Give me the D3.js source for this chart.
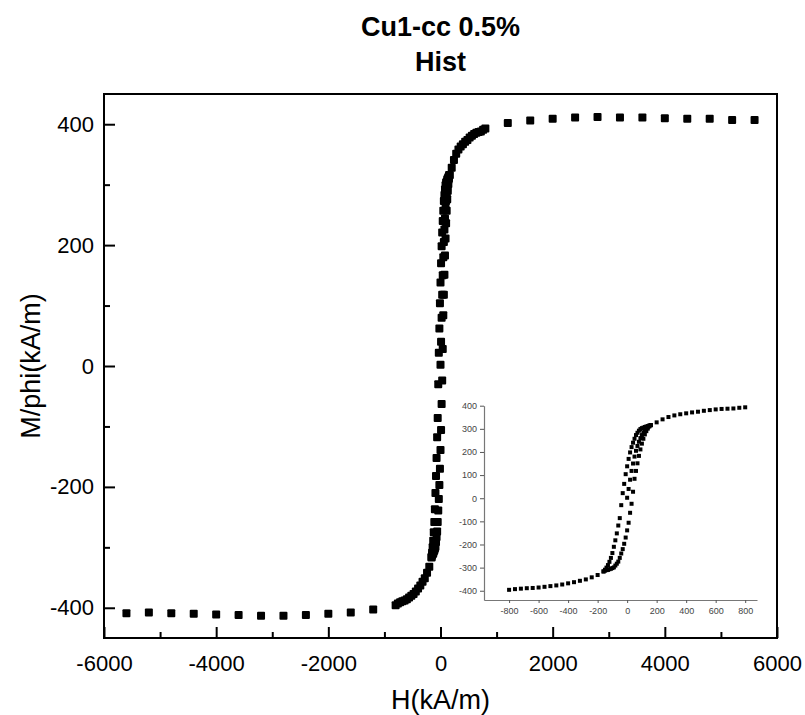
<!DOCTYPE html>
<html>
<head>
<meta charset="utf-8">
<script src="https://cdn.jsdelivr.net/npm/d3@7"></script>
<style>
  body { margin: 0; background: #fff; }
  svg { font-family: "Liberation Sans", Arial, sans-serif; }
</style>
</head>
<body>
<div id="chart"></div>
<script>
// saturation points, 400 kA/m step
const hSatNeg = [-5600, -5200, -4800, -4400, -4000, -3600, -3200, -2800, -2400, -2000, -1600, -1200];
const mSatNeg = [-409, -408, -409, -410, -411, -412, -413, -413, -412, -410, -408, -403];
const hSatPos = [1200, 1600, 2000, 2400, 2800, 3200, 3600, 4000, 4400, 4800, 5200, 5600];
const mSatPos = [402, 406, 409, 411, 412, 411, 411, 410, 409, 409, 407, 407];

// approach to saturation, 40 kA/m step
const hOuterNeg = [-800, -760, -720, -680, -640, -600, -560, -520, -480, -440, -400, -360, -320, -280, -240, -200];
const mOuterNeg = [-396, -393, -391, -389, -388, -386, -383, -380, -377, -373, -368, -363, -357, -351, -342, -332];
const hOuterPos = [200, 240, 280, 320, 360, 400, 440, 480, 520, 560, 600, 640, 680, 720, 760, 800];
const mOuterPos = [328, 341, 351, 358, 363, 367, 371, 374, 378, 381, 384, 386, 387, 388, 391, 393];

// loop region, 10 kA/m step
const hInit = [0, 10, 20, 30, 40, 50, 60, 70, 80, 90, 100, 110, 120, 130, 140, 150, 160];
const mInit = [2, 40, 80, 118, 150, 180, 205, 226, 244, 260, 273, 284, 294, 302, 308, 313, 316];

const hDown = [160, 150, 140, 130, 120, 110, 100, 90, 80, 70, 60, 50, 40, 30, 20, 10, 0,
  -10, -20, -30, -40, -50, -60, -70, -80, -90, -100, -110, -120, -130, -140, -150, -160];
const mDown = [316, 314, 312, 310, 308, 305, 303, 299, 292, 283, 273, 257, 240, 221, 198, 170, 138,
  104, 62, 22, -30, -86, -118, -152, -182, -210, -237, -258, -275, -289, -300, -309, -316];

const hUp = [-160, -150, -140, -130, -120, -110, -100, -90, -80, -70, -60, -50, -40, -30, -20, -10, 0,
  10, 20, 30, 40, 50, 60, 70, 80, 90, 100, 110, 120, 130, 140, 150, 160];
const mUp = [-317, -313, -311, -310, -307, -305, -302, -299, -291, -283, -274, -258, -239, -220, -197, -170, -139,
  -106, -63, -24, 28, 84, 118, 151, 183, 211, 236, 257, 276, 290, 301, 310, 316];

const xTicks = [-6000, -4000, -2000, 0, 2000, 4000, 6000];
const yTicks = [-400, -200, 0, 200, 400];
const insetXTicks = [-800, -600, -400, -200, 0, 200, 400, 600, 800];
const insetYTicks = [-400, -300, -200, -100, 0, 100, 200, 300, 400];

function zip(hs, ms) {
    return hs.map((h, i) => ({h: h, m: ms[i]}));
}

// plain hyphen for negatives, like the original
const plain = d => String(d);

let loopPts = [].concat(
    zip(hOuterNeg, mOuterNeg), zip(hInit, mInit), zip(hDown, mDown),
    zip(hUp, mUp), zip(hOuterPos, mOuterPos));
let allPts = [].concat(zip(hSatNeg, mSatNeg), loopPts, zip(hSatPos, mSatPos));

const width = 805, height = 715;
const plotLeft = 104, plotRight = 777, plotTop = 94, plotBottom = 638;

const svg = d3.select("#chart").append("svg")
    .attr("width", width)
    .attr("height", height);

// title
svg.append("text")
    .attr("x", (plotLeft + plotRight) / 2).attr("y", 36)
    .attr("text-anchor", "middle")
    .style("font-size", "27px").style("font-weight", "bold")
    .text("Cu1-cc 0.5%");
svg.append("text")
    .attr("x", (plotLeft + plotRight) / 2).attr("y", 71)
    .attr("text-anchor", "middle")
    .style("font-size", "27px").style("font-weight", "bold")
    .text("Hist");

// main scales
let x = d3.scaleLinear().domain([-6000, 6000]).range([plotLeft, plotRight]);
let y = d3.scaleLinear().domain([-450, 450]).range([plotBottom, plotTop]);

// minor ticks (inward, shorter)
const xMinor = svg.append("g").attr("transform", `translate(0,${plotBottom})`)
    .call(d3.axisTop(x).tickValues([-5000, -3000, -1000, 1000, 3000, 5000]).tickSize(6).tickFormat(""));
xMinor.select(".domain").remove();
const xMajor = svg.append("g").attr("transform", `translate(0,${plotBottom})`)
    .call(d3.axisTop(x).tickValues(xTicks).tickSize(11).tickFormat(plain));
xMajor.select(".domain").remove();
xMajor.selectAll("text")
    .attr("y", 33)
    .style("font-size", "22px")
    .attr("fill", "#000");

const yMinor = svg.append("g").attr("transform", `translate(${plotLeft},0)`)
    .call(d3.axisRight(y).tickValues([-300, -100, 100, 300]).tickSize(6).tickFormat(""));
yMinor.select(".domain").remove();
const yMajor = svg.append("g").attr("transform", `translate(${plotLeft},0)`)
    .call(d3.axisRight(y).tickValues(yTicks).tickSize(11).tickFormat(plain));
yMajor.select(".domain").remove();
yMajor.selectAll("text")
    .attr("x", -10)
    .attr("text-anchor", "end")
    .style("font-size", "22px")
    .attr("fill", "#000");
svg.selectAll(".tick line").attr("stroke", "#000").attr("stroke-width", 2);

// frame
svg.append("rect")
    .attr("x", plotLeft).attr("y", plotTop)
    .attr("width", plotRight - plotLeft).attr("height", plotBottom - plotTop)
    .attr("fill", "none").attr("stroke", "#000").attr("stroke-width", 2);

// axis titles
svg.append("text")
    .attr("x", (plotLeft + plotRight) / 2).attr("y", 709)
    .attr("text-anchor", "middle")
    .style("font-size", "27px")
    .text("H(kA/m)");
svg.append("text")
    .attr("transform", `translate(40,${(plotTop + plotBottom) / 2})rotate(-90)`)
    .attr("text-anchor", "middle")
    .style("font-size", "27px")
    .text("M/phi(kA/m)");

// main markers
svg.append("g").selectAll("rect")
    .data(allPts)
    .enter()
    .append("rect")
    .attr("x", d => x(d.h) - 4)
    .attr("y", d => y(d.m) - 4)
    .attr("width", 8).attr("height", 8)
    .attr("rx", 1)
    .attr("fill", "#000");

// inset
let xi = d3.scaleLinear().domain([-970, 880]).range([484, 757]);
let yi = d3.scaleLinear().domain([-440, 400]).range([600, 405.7]);

const inset = svg.append("g");
const ixAxis = inset.append("g").attr("transform", `translate(0,600)`)
    .call(d3.axisBottom(xi).tickValues(insetXTicks).tickSize(3).tickSizeOuter(0).tickFormat(plain));
const iyAxis = inset.append("g").attr("transform", `translate(484,0)`)
    .call(d3.axisLeft(yi).tickValues(insetYTicks).tickSize(4).tickSizeOuter(0).tickFormat(plain));
inset.selectAll(".domain").attr("stroke", "#777").attr("stroke-width", 1.2);
inset.selectAll(".tick line").attr("stroke", "#555");
inset.selectAll(".tick text")
    .style("font-size", "9px")
    .attr("fill", "#444");
ixAxis.selectAll("text").attr("y", 8);
iyAxis.selectAll("text").attr("x", -7);

inset.append("g").selectAll("rect")
    .data(loopPts)
    .enter()
    .append("rect")
    .attr("x", d => xi(d.h) - 2)
    .attr("y", d => yi(d.m) - 2)
    .attr("width", 4).attr("height", 4)
    .attr("fill", "#000");
</script>
</body>
</html>
